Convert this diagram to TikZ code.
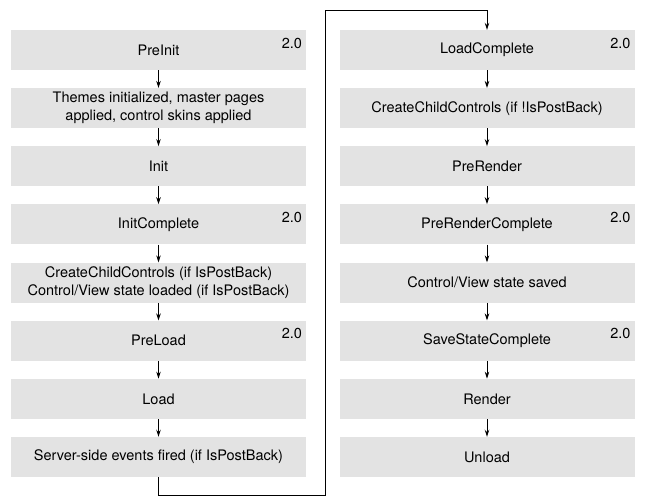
\documentclass[tikz,border=0pt]{standalone}
\usepackage{fontspec}
\setmainfont{TeX Gyre Heros}
\usetikzlibrary{arrows.meta}
\definecolor{boxgray}{HTML}{E3E3E3}
\tikzset{
  stage/.style={fill=boxgray, minimum width=295pt, minimum height=40pt, inner sep=0pt,
    align=center, font=\fontsize{14.5}{18}\selectfont},
  ver/.style={anchor=north east, inner sep=0pt, font=\fontsize{14.5}{18}\selectfont},
  flow/.style={-{Stealth[length=7pt,width=4.5pt]}, line width=0.9pt}
}
\begin{document}
\begin{tikzpicture}[x=1pt,y=1pt]
\useasboundingbox (0,0) rectangle (657,504);
% left column
\node[stage] (preinit) at (158.5,454) {PreInit};
\node[stage] (themes) at (158.5,395.86) {Themes initialized, master pages\\applied, control skins applied};
\node[stage] (init) at (158.5,337.72) {Init};
\node[stage] (initc) at (158.5,279.58) {InitComplete};
\node[stage] (ccleft) at (158.5,221.44) {CreateChildControls (if IsPostBack)\\Control/View state loaded (if IsPostBack)};
\node[stage] (preload) at (158.5,163.3) {PreLoad};
\node[stage] (load) at (158.5,105.16) {Load};
\node[stage] (events) at (158.5,47.02) {Server-side events fired (if IsPostBack)};
% right column
\node[stage] (loadc) at (487,454) {LoadComplete};
\node[stage] (ccright) at (487,395.86) {CreateChildControls (if !IsPostBack)};
\node[stage] (prerender) at (487,337.72) {PreRender};
\node[stage] (prerenderc) at (487,279.58) {PreRenderComplete};
\node[stage] (saved) at (487,221.44) {Control/View state saved};
\node[stage] (savec) at (487,163.3) {SaveStateComplete};
\node[stage] (render) at (487,105.16) {Render};
\node[stage] (unload) at (487,47.02) {Unload};
% version marks
\node[ver] at ([xshift=-4pt,yshift=-8pt]preinit.north east) {2.0};
\node[ver] at ([xshift=-4pt,yshift=-8pt]initc.north east) {2.0};
\node[ver] at ([xshift=-4pt,yshift=-8pt]preload.north east) {2.0};
\node[ver] at ([xshift=-4pt,yshift=-8pt]loadc.north east) {2.0};
\node[ver] at ([xshift=-4pt,yshift=-8pt]prerenderc.north east) {2.0};
\node[ver] at ([xshift=-4pt,yshift=-8pt]savec.north east) {2.0};
% arrows
\draw[flow] (preinit) -- (themes);
\draw[flow] (themes) -- (init);
\draw[flow] (init) -- (initc);
\draw[flow] (initc) -- (ccleft);
\draw[flow] (ccleft) -- (preload);
\draw[flow] (preload) -- (load);
\draw[flow] (load) -- (events);
\draw[flow] (loadc) -- (ccright);
\draw[flow] (ccright) -- (prerender);
\draw[flow] (prerender) -- (prerenderc);
\draw[flow] (prerenderc) -- (saved);
\draw[flow] (saved) -- (savec);
\draw[flow] (savec) -- (render);
\draw[flow] (render) -- (unload);
% jump to second column
\coordinate (bend1) at (325,9);
\coordinate (bend2) at (325,494);
\draw[flow] (events.south) |- (bend1) -- (bend2) -| (loadc.north);
\end{tikzpicture}
\end{document}
